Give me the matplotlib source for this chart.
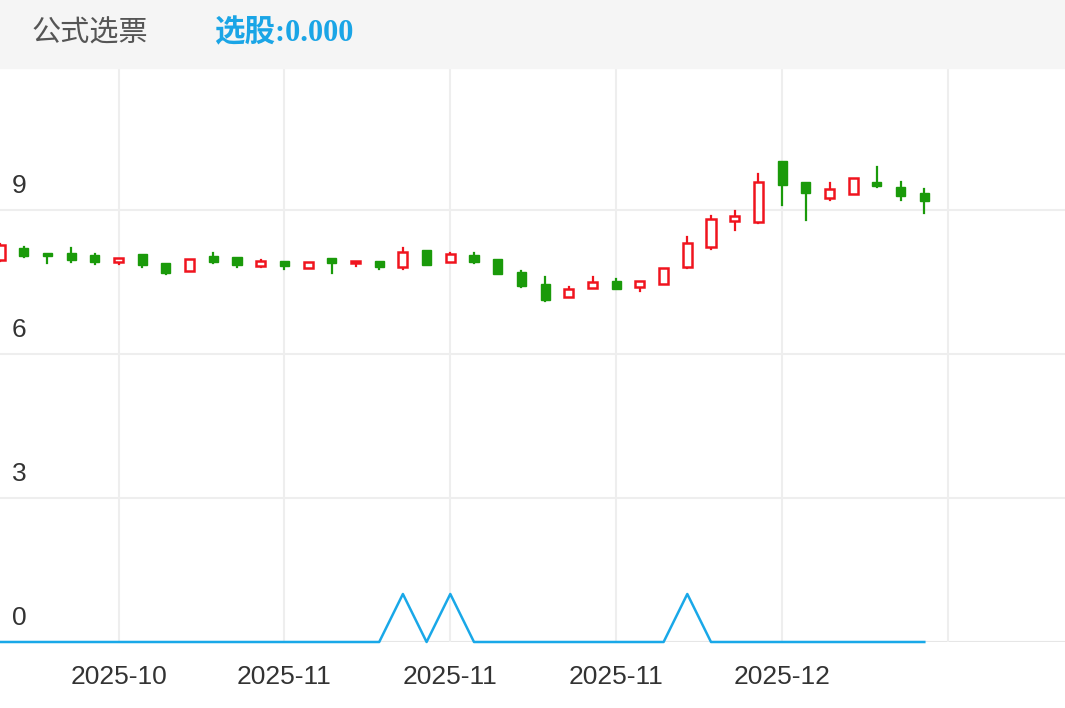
import matplotlib
matplotlib.use("Agg")
import matplotlib.pyplot as plt
from matplotlib.patches import Rectangle

opens  = [7.96,8.21,8.10,8.10,8.06,7.92,8.08,7.90,7.73,8.04,8.02,7.83,7.94,7.79,8.00,7.90,7.94,7.81,8.17,7.92,
          8.06,7.98,7.71,7.46,7.19,7.38,7.52,7.40,7.46,7.81,8.23,8.77,8.75,10.02,9.58,9.25,9.33,9.58,9.48,9.35]
closes = [8.27,8.04,8.04,7.96,7.92,8.00,7.85,7.69,7.98,7.92,7.85,7.94,7.83,7.92,7.90,7.94,7.81,8.13,7.85,8.08,
          7.92,7.67,7.42,7.13,7.35,7.50,7.35,7.52,7.79,8.31,8.81,8.88,9.58,9.52,9.35,9.44,9.67,9.50,9.29,9.19]
highs  = [8.30,8.23,8.10,8.21,8.08,8.00,8.08,7.90,7.98,8.10,8.02,7.96,7.94,7.92,8.00,7.94,7.94,8.21,8.17,8.10,
          8.10,7.98,7.73,7.60,7.40,7.60,7.56,7.52,7.79,8.44,8.88,8.98,9.75,10.02,9.58,9.56,9.67,9.90,9.58,9.44]
lows   = [7.94,8.02,7.90,7.92,7.88,7.88,7.81,7.67,7.73,7.90,7.81,7.81,7.77,7.79,7.69,7.83,7.77,7.77,7.85,7.92,
          7.90,7.67,7.40,7.10,7.19,7.38,7.35,7.31,7.46,7.79,8.19,8.58,8.73,9.10,8.79,9.21,9.33,9.48,9.21,8.94]
signal = [0]*40
for i in (17, 19, 29):
    signal[i] = 1
yticks = [0, 3, 6, 9]
xtick_pos = [5, 12, 19, 26, 33]
xtick_labels = ["2025-10", "2025-11", "2025-11", "2025-11", "2025-12"]

RED, GREEN, BLUE = "#f0141e", "#1a9a0a", "#19a8e8"
plt.rcParams['font.family'] = ['Liberation Sans', 'Noto Sans CJK SC', 'DejaVu Sans']

fig = plt.figure(figsize=(10.65, 7.08), dpi=100)
fig.patches.append(Rectangle((0, 1 - 68/708), 1, 68/708, transform=fig.transFigure, color="#f5f5f5", zorder=0))
fig.text(32/1065, 1 - 34/708, "公式选票", fontsize=21, color="#555555", va="center",
         family=['Noto Sans CJK SC'])
fig.text(214/1065, 1 - 34/708, "选股:0.000", fontsize=22, color="#1aa5e6", va="center", fontweight="bold",
         family=['Liberation Serif', 'Noto Sans CJK SC'])

ax = fig.add_axes([0, 1 - 642/708, 1, (642-68)/708])
ax.set_xlim(0, 1065/23.7)
ax.set_ylim(0, (642-68)/48)
for s in ax.spines.values():
    s.set_visible(False)
ax.axhline(0, color="#e6e6e6", lw=1.5, zorder=0)
for y in yticks[1:]:
    ax.axhline(y, color="#eeeeee", lw=1.5, zorder=0)
for x in xtick_pos + [40]:
    ax.axvline(x, color="#eeeeee", lw=1.5, zorder=0)
ax.set_xticks([]); ax.set_yticks([])
for y in yticks:
    ax.text(12/23.7, y + 0.5, str(y), fontsize=19, color="#333333", va="center", ha="left")
for x, l in zip(xtick_pos, xtick_labels):
    ax.text(x, -35/48, l, fontsize=19, color="#333333", ha="center", va="center", clip_on=False)

w = 0.38
for i in range(40):
    o, c, h, l = opens[i], closes[i], highs[i], lows[i]
    col = RED if c >= o else GREEN
    lo, hi = min(o, c), max(o, c)
    ax.plot([i, i], [l, lo], color=col, lw=1.6, zorder=2)
    ax.plot([i, i], [hi, h], color=col, lw=1.6, zorder=2)
    if c >= o:
        ax.add_patch(Rectangle((i - w/2, lo), w, max(hi-lo, 0.03), facecolor="white", edgecolor=col, lw=1.8, zorder=3))
    else:
        ax.add_patch(Rectangle((i - w/2, lo), w, max(hi-lo, 0.05), facecolor=col, edgecolor=col, lw=1, zorder=3))

ax.plot(range(40), signal, color=BLUE, lw=1.8, zorder=4, clip_on=False)
fig.savefig("out.png", dpi=100)
